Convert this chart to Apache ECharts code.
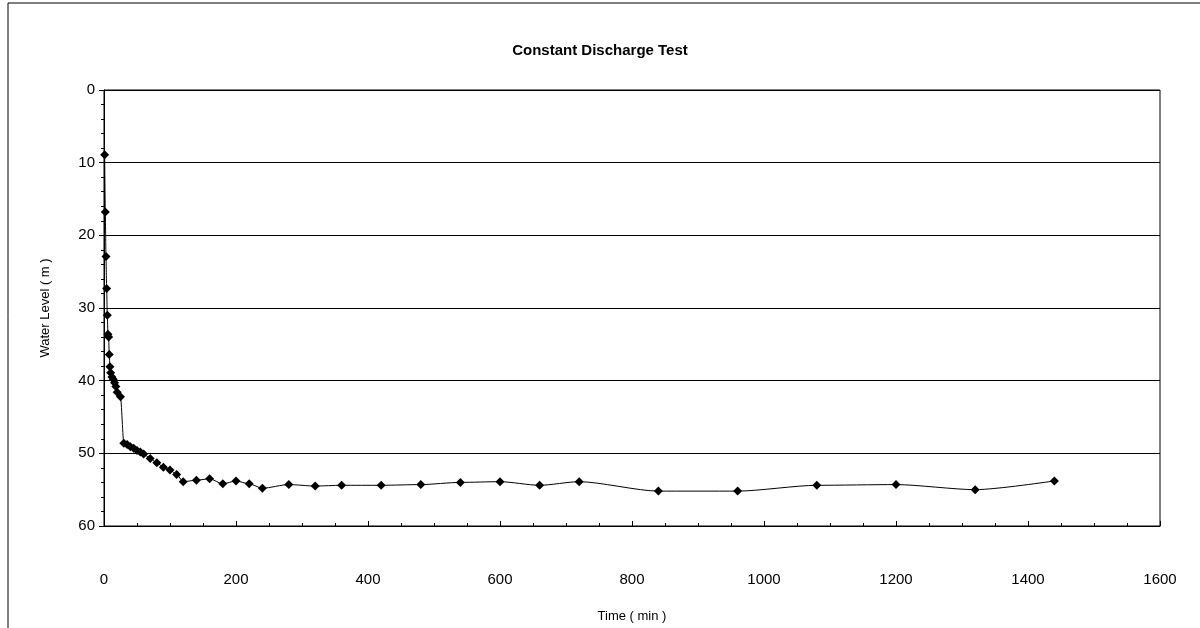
<!DOCTYPE html>
<html>
<head>
<meta charset="utf-8">
<title>Constant Discharge Test</title>
<script src="https://cdn.jsdelivr.net/npm/echarts@6/dist/echarts.min.js"></script>
<style>
  html, body { margin: 0; padding: 0; background: #fff; }
  #chart { width: 1200px; height: 628px; }
</style>
</head>
<body>
<div id="chart"></div>
<script>
// time since pumping started (min)
const timeMin = [1, 2, 3, 4, 5, 6, 7, 8, 9, 10, 12, 14, 16, 18, 20, 25, 30, 35, 40, 45, 50, 55, 60,
  70, 80, 90, 100, 110, 120, 140, 160, 180, 200, 220, 240, 280, 320, 360, 420, 480, 540, 600,
  660, 720, 840, 960, 1080, 1200, 1320, 1440];
// water level below datum (m)
const waterLevel = [8.9, 16.8, 22.9, 27.3, 31.0, 33.6, 34.0, 36.4, 38.1, 38.9, 39.5, 39.8, 40.3, 40.8, 41.6,
  42.2, 48.6, 48.8, 49.1, 49.3, 49.6, 49.8, 50.1, 50.7, 51.3, 51.9, 52.3, 52.9, 53.9, 53.7, 53.5,
  54.2, 53.8, 54.2, 54.8, 54.3, 54.5, 54.4, 54.4, 54.3, 54.0, 53.9, 54.4, 53.9, 55.2, 55.2, 54.4,
  54.3, 55.0, 53.8];

const points = timeMin.map((t, i) => [t, waterLevel[i]]);

const chart = echarts.init(document.getElementById('chart'));
const font = "'Liberation Sans', Arial, sans-serif";

chart.setOption({
  backgroundColor: '#fff',
  animation: false,
  title: {
    text: 'Constant Discharge Test',
    left: 'center',
    top: 38,
    textStyle: { fontFamily: font, fontSize: 15, fontWeight: 'bold', color: '#000' }
  },
  graphic: [
    { type: 'line', shape: { x1: 8, y1: 3, x2: 1200, y2: 3 }, style: { stroke: '#000', lineWidth: 1 } },
    { type: 'line', shape: { x1: 8, y1: 3, x2: 8, y2: 628 }, style: { stroke: '#000', lineWidth: 1 } }
  ],
  grid: {
    left: 104, right: 40, top: 90, bottom: 102,
    show: true, borderColor: '#000', borderWidth: 1
  },
  xAxis: {
    type: 'value',
    min: 0, max: 1600, interval: 200,
    name: 'Time ( min )',
    nameLocation: 'middle',
    nameGap: 84,
    nameTextStyle: { fontFamily: font, fontSize: 13, color: '#000' },
    axisLine: { onZero: false, lineStyle: { color: '#000', width: 1 } },
    axisTick: { inside: true, length: 5, lineStyle: { color: '#000' } },
    minorTick: { show: true, splitNumber: 4, length: 3, lineStyle: { color: '#000' } },
    axisLabel: { margin: 46, fontFamily: font, fontSize: 15, color: '#000', formatter: v => String(v) },
    splitLine: { show: false }
  },
  yAxis: {
    type: 'value',
    inverse: true,
    min: 0, max: 60, interval: 10,
    name: 'Water Level ( m )',
    nameLocation: 'middle',
    nameGap: 52,
    nameTextStyle: { fontFamily: font, fontSize: 13, color: '#000' },
    axisLine: { show: true, lineStyle: { color: '#000', width: 1 } },
    axisTick: { show: true, length: 5, lineStyle: { color: '#000' } },
    minorTick: { show: true, splitNumber: 5, length: 3, lineStyle: { color: '#000' } },
    axisLabel: { margin: 9, fontFamily: font, fontSize: 15, color: '#000' },
    splitLine: { show: true, lineStyle: { color: '#000', width: 1 } }
  },
  series: [{
    type: 'line',
    data: points,
    smooth: 0.25,
    smoothMonotone: 'x',
    symbol: 'diamond',
    symbolSize: 9,
    itemStyle: { color: '#000' },
    lineStyle: { color: '#000', width: 1 }
  }]
});
</script>
</body>
</html>
